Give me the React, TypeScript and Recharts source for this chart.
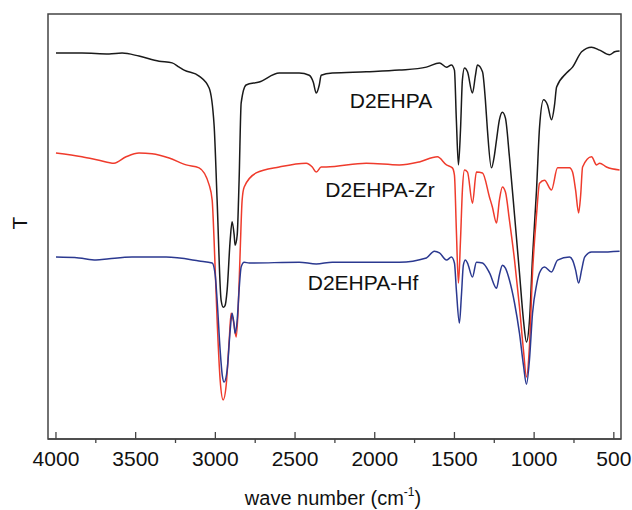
import React from "react";
import { LineChart, Line, XAxis, YAxis, ReferenceArea } from "recharts";

const FONT = "'Liberation Sans', Arial, Helvetica, sans-serif";

// wave number (cm-1) / transmittance (arbitrary units, stacked)
const d2ehpa = [
  [4000, 90.8], [3837, 90.8], [3667, 90.6], [3585, 90.8], [3479, 90.1], [3353, 88.9],
  [3271, 88.5], [3227, 87.5], [3196, 86.8], [3102, 85.4], [3039, 82.6], [3008, 73.9],
  [2989, 56.2], [2964, 32.7], [2950, 31.0], [2940, 31.3], [2926, 35.1], [2907, 46.8], [2895, 51.1],
  [2882, 48.0], [2876, 45.6], [2863, 48.0], [2851, 60.9], [2838, 79.1], [2807, 83.3],
  [2725, 84.0], [2599, 86.1], [2474, 86.1], [2411, 85.6], [2386, 84.0], [2367, 81.4],
  [2348, 83.3], [2336, 85.6], [2266, 86.1], [2053, 86.4], [1846, 86.8], [1676, 87.5],
  [1594, 88.5], [1550, 87.5], [1519, 88.0], [1500, 86.8], [1488, 75.1], [1475, 64.5],
  [1462, 72.7], [1450, 84.5], [1437, 87.3], [1418, 86.4], [1387, 81.4], [1368, 85.6],
  [1356, 88.0], [1324, 86.4], [1306, 79.8], [1293, 72.7], [1268, 63.8], [1249, 66.8],
  [1236, 70.4], [1218, 75.1], [1199, 76.9], [1180, 75.5], [1155, 66.4], [1123, 52.7],
  [1092, 39.1], [1067, 28.0], [1048, 22.8], [1029, 28.0], [1010, 42.8], [985, 58.6],
  [966, 73.4], [941, 79.8], [916, 78.6], [891, 75.1], [872, 78.6], [859, 82.8],
  [797, 86.1], [759, 87.5], [702, 91.1], [640, 92.2], [589, 91.5], [527, 90.4],
  [495, 91.1], [464, 91.3],
];

const d2ehpaZr = [
  [4000, 67.3], [3837, 66.4], [3730, 65.6], [3636, 64.9], [3560, 66.4], [3479, 67.3],
  [3397, 67.1], [3290, 66.1], [3183, 64.5], [3102, 63.8], [3039, 59.8], [3020, 56.2],
  [3008, 46.8], [2989, 28.0], [2970, 13.9], [2951, 9.2], [2932, 12.7], [2913, 23.3],
  [2901, 29.6], [2888, 28.0], [2869, 24.0], [2857, 30.4], [2844, 44.5], [2832, 56.2],
  [2819, 59.3], [2744, 62.6], [2599, 64.0], [2430, 64.9], [2392, 64.0], [2367, 62.8],
  [2336, 64.0], [2304, 64.0], [2053, 64.9], [1846, 64.5], [1720, 65.2], [1607, 66.4],
  [1550, 64.5], [1513, 63.8], [1500, 62.1], [1488, 49.2], [1475, 36.7], [1462, 46.8],
  [1450, 58.6], [1437, 63.3], [1418, 62.8], [1387, 55.5], [1362, 62.8], [1324, 62.6],
  [1280, 56.9], [1262, 54.6], [1236, 50.8], [1218, 56.2], [1199, 59.3], [1180, 58.1],
  [1155, 51.5], [1123, 42.1], [1092, 31.1], [1067, 20.9], [1048, 14.6], [1029, 22.1],
  [1010, 39.1], [985, 52.7], [966, 60.2], [935, 60.9], [891, 58.6], [853, 63.8],
  [778, 63.8], [759, 62.8], [740, 58.6], [721, 53.2], [708, 57.4], [696, 64.0],
  [640, 66.4], [608, 64.5], [589, 64.9], [546, 64.0], [464, 63.3],
];

const d2ehpaHf = [
  [4000, 42.8], [3856, 42.6], [3749, 42.1], [3667, 42.4], [3523, 42.8], [3309, 42.8],
  [3102, 41.9], [3020, 41.4], [3001, 38.6], [2989, 32.7], [2970, 20.9], [2957, 15.1],
  [2945, 13.4], [2926, 16.2], [2907, 25.6], [2895, 29.6], [2882, 26.8], [2876, 24.9],
  [2863, 28.0], [2851, 35.1], [2838, 40.5], [2819, 41.6], [2788, 41.4], [2474, 41.6],
  [2367, 41.2], [2266, 41.6], [1846, 41.6], [1676, 42.6], [1626, 44.2], [1594, 43.8],
  [1550, 42.1], [1519, 42.8], [1500, 41.4], [1488, 35.1], [1469, 27.3], [1456, 33.9],
  [1444, 40.9], [1431, 42.1], [1418, 41.4], [1387, 38.1], [1362, 41.6], [1324, 41.4],
  [1280, 39.1], [1236, 35.5], [1218, 38.6], [1199, 40.9], [1180, 40.2], [1155, 37.4],
  [1123, 32.0], [1092, 24.9], [1067, 17.4], [1048, 12.9], [1029, 18.8], [1010, 29.6],
  [985, 36.2], [966, 39.1], [935, 40.5], [891, 39.3], [853, 42.1], [778, 42.8],
  [759, 42.1], [740, 39.8], [721, 36.7], [702, 39.8], [683, 42.8], [640, 44.0],
  [589, 44.0], [464, 44.2],
];

const tickValues = [500, 750, 1000, 1250, 1500, 1750, 2000, 2250, 2500, 2750, 3000, 3250, 3500, 3750, 4000];

const toRows = (arr: number[][]) => arr.map(([wn, t]) => ({ wn, t }));

const series = [
  { name: "D2EHPA", data: toRows(d2ehpa), color: "#1a1a1a" },
  { name: "D2EHPA-Zr", data: toRows(d2ehpaZr), color: "#ef3b2c" },
  { name: "D2EHPA-Hf", data: toRows(d2ehpaHf), color: "#2b3990" },
];

function Tick(props: any) {
  const { x, y, payload } = props;
  const major = payload.value % 500 === 0;
  if (!major) {
    return <line x1={x} x2={x} y1={y} y2={y + 4} stroke="#444" strokeWidth={1.3} />;
  }
  return (
    <g>
      <line x1={x} x2={x} y1={y} y2={y - 7} stroke="#444" strokeWidth={1.3} />
      <text x={x} y={y + 27} textAnchor="middle" fontSize={21} fontFamily={FONT} fill="#111">
        {payload.value}
      </text>
    </g>
  );
}

export default function App() {
  return (
    <div style={{ position: "absolute", left: 0, top: 0, background: "#fff" }}>
      <LineChart width={632} height={510} margin={{ top: 14, right: 11, left: 48, bottom: 0 }}>
        <XAxis
          dataKey="wn"
          type="number"
          domain={[455, 4050]}
          reversed
          ticks={tickValues}
          interval={0}
          tick={<Tick />}
          tickLine={false}
          tickSize={0}
          tickMargin={0}
          height={71}
          axisLine={{ stroke: "#444", strokeWidth: 1.5 }}
          allowDuplicatedCategory={false}
        />
        <YAxis type="number" domain={[0, 100]} hide />
        <ReferenceArea x1={455} x2={4050} y1={0} y2={100} fill="none" stroke="#444" strokeWidth={1.5} />
        {series.map((s) => (
          <Line
            key={s.name}
            data={s.data}
            dataKey="t"
            type="monotoneX"
            stroke={s.color}
            strokeWidth={1.5}
            dot={false}
            isAnimationActive={false}
          />
        ))}
        <text x={391} y={108} textAnchor="middle" fontSize={21} fontFamily={FONT} fill="#111">D2EHPA</text>
        <text x={380} y={197} textAnchor="middle" fontSize={21} fontFamily={FONT} fill="#111">D2EHPA-Zr</text>
        <text x={363} y={290} textAnchor="middle" fontSize={21} fontFamily={FONT} fill="#111">D2EHPA-Hf</text>
        <text
          x={27}
          y={223}
          textAnchor="middle"
          fontSize={21}
          fontFamily={FONT}
          fill="#111"
          transform="rotate(-90 27 223)"
        >
          T
        </text>
        <text x={333} y={505} textAnchor="middle" fontSize={20} fontFamily={FONT} fill="#111">
          wave number (cm
          <tspan dy={-9} fontSize={12}>-1</tspan>
          <tspan dy={9}>)</tspan>
        </text>
      </LineChart>
    </div>
  );
}
